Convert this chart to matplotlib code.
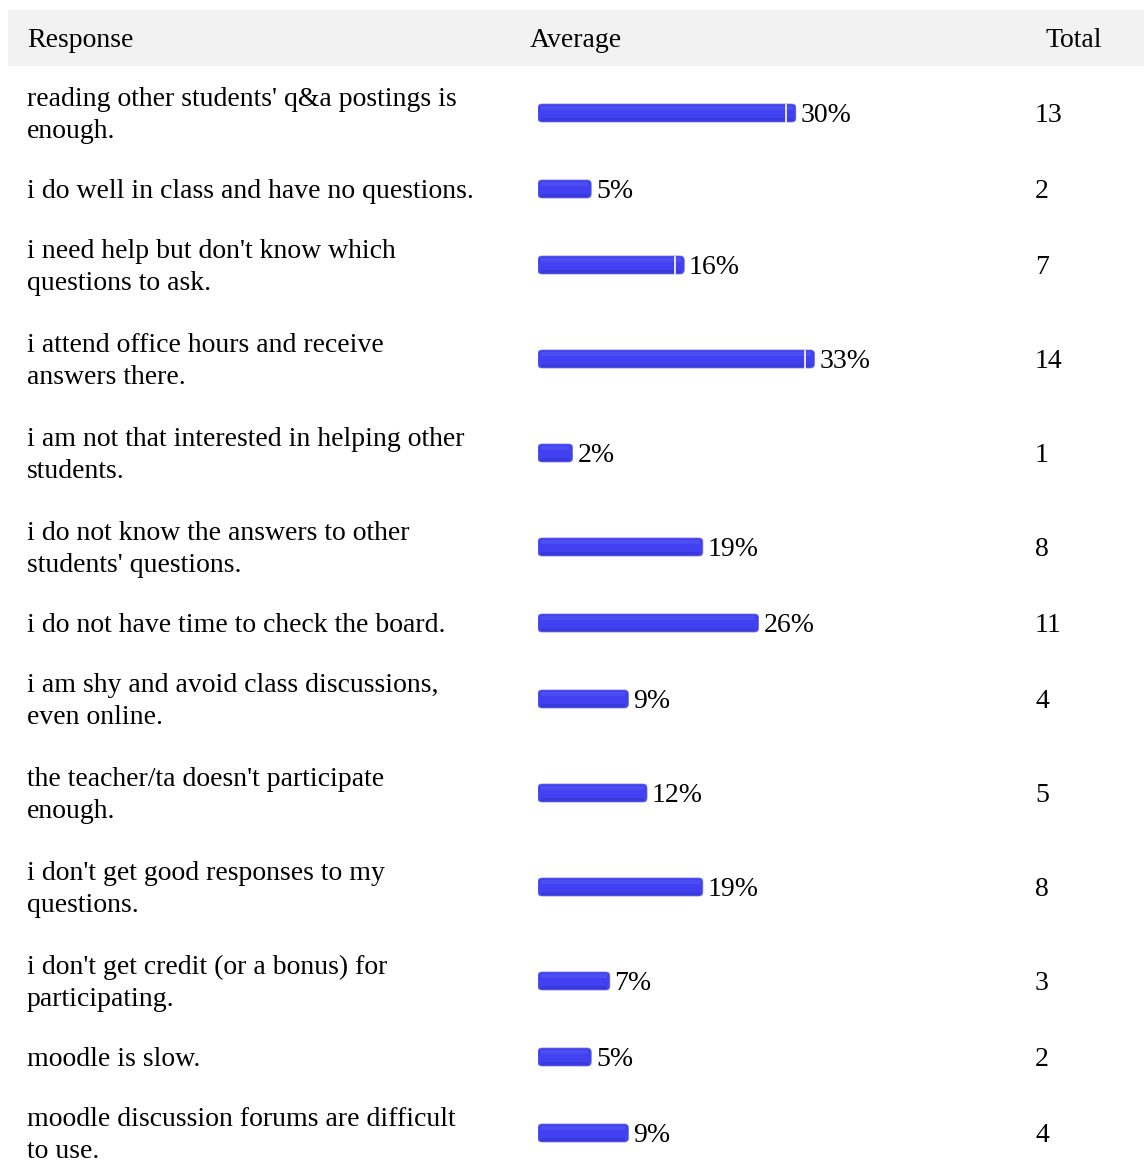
import matplotlib.pyplot as plt
from matplotlib.patches import FancyBboxPatch, Rectangle

# survey responses (label lines as wrapped in the table)
responses = [
    "reading other students' q&a postings is\nenough.",
    "i do well in class and have no questions.",
    "i need help but don't know which\nquestions to ask.",
    "i attend office hours and receive\nanswers there.",
    "i am not that interested in helping other\nstudents.",
    "i do not know the answers to other\nstudents' questions.",
    "i do not have time to check the board.",
    "i am shy and avoid class discussions,\neven online.",
    "the teacher/ta doesn't participate\nenough.",
    "i don't get good responses to my\nquestions.",
    "i don't get credit (or a bonus) for\nparticipating.",
    "moodle is slow.",
    "moodle discussion forums are difficult\nto use.",
]
totals = [13, 2, 7, 14, 1, 8, 11, 4, 5, 8, 3, 2, 4]
n_resp = 43
percents = [100.0 * t / n_resp for t in totals]
headers = ["Response", "Average", "Total"]

W, H = 1144, 1162
fig = plt.figure(figsize=(W / 100, H / 100), dpi=100)
ax = fig.add_axes([0, 0, 1, 1])
ax.set_xlim(0, W)
ax.set_ylim(H, 0)
ax.axis('off')

font = 'Liberation Serif'
fs = 20
base_off = 9      # baseline sits this many px below a line's centre
line_gap = 33     # px between wrapped lines

# header band
ax.add_patch(Rectangle((8, 10), W - 8, 56, color='#f2f2f2', lw=0))
ax.text(27, 38 + base_off, headers[0], fontsize=fs, family=font, va='baseline', ha='left')
ax.text(530, 38 + base_off, headers[1], fontsize=fs, family=font, va='baseline', ha='left')
ax.text(1102, 38 + base_off, headers[2], fontsize=fs, family=font, va='baseline', ha='right')

# row layout: two-line rows are taller
row_h1, row_h2 = 58, 94
centers = []
y = 66
for r in responses:
    h = row_h2 if "\n" in r else row_h1
    centers.append(y + h / 2)
    y += h

# bar axes: x in percent, 8 px per percent, starting at x=538
bar_left = 538
px_per_pct = 8.0
bax = fig.add_axes([bar_left / W, 0, 1 - bar_left / W, 1])
bax.set_xlim(0, (W - bar_left) / px_per_pct)
bax.set_ylim(H, 0)
bax.axis('off')

cap = 2.0   # rounded end cap adds a little length
bar_h = 18
bars = bax.barh(centers, [p + cap for p in percents], height=bar_h, left=0,
                color='#4040ee', alpha=0)
for i, b in enumerate(bars):
    x0, y0 = b.get_x(), b.get_y()
    w, h = b.get_width(), b.get_height()
    bax.add_patch(FancyBboxPatch((x0, y0), w, h,
                                 boxstyle="round,pad=0,rounding_size=0.5",
                                 mutation_aspect=px_per_pct,
                                 fc='#4141f1', ec='#6a6ad6', lw=0.5))
    # soft highlight near the top, soft shade near the bottom
    bax.add_patch(Rectangle((x0 + 0.4, y0 + 1.5), w - 0.8, 4, fc='#4d4df4', lw=0))
    bax.add_patch(Rectangle((x0 + 0.4, y0 + h - 4), w - 0.8, 2.5, fc='#3a3adc', lw=0))
    if i in (0, 2, 3):
        bax.plot([x0 + w - 1.2, x0 + w - 1.2], [y0 + 0.5, y0 + h - 0.5], color='white', lw=1.2)
    bax.text(x0 + w + 0.6, centers[i] + base_off, "%d%%" % round(percents[i]),
             fontsize=fs, family=font, va='baseline', ha='left')

for r, c, t in zip(responses, centers, totals):
    lines = r.split("\n")
    n = len(lines)
    for k, line in enumerate(lines):
        yb = c + base_off + (k - (n - 1) / 2) * line_gap
        ax.text(27, yb, line, fontsize=fs, family=font, va='baseline', ha='left')
    ax.text(1035, c + base_off, str(t), fontsize=fs, family=font, va='baseline', ha='left')

fig.savefig('out.png', dpi=100)
